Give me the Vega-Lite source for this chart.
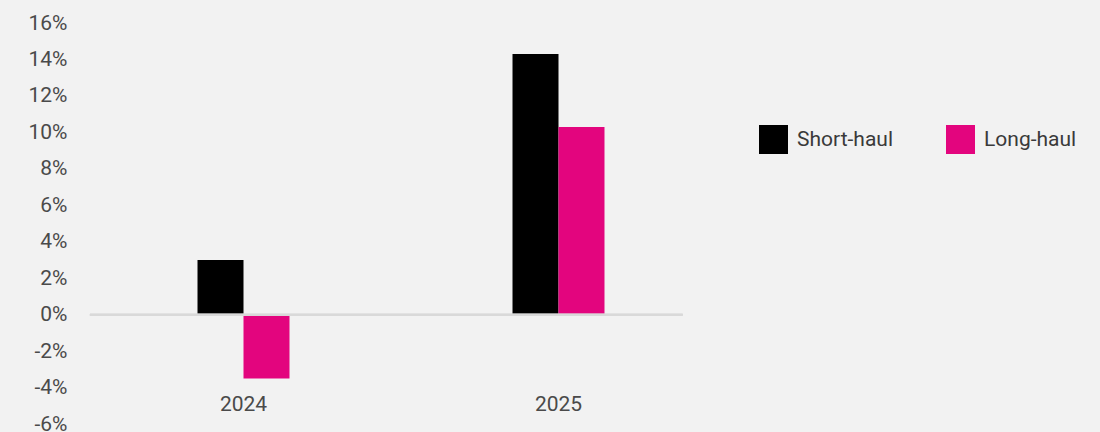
{
  "$schema": "https://vega.github.io/schema/vega-lite/v6.json",
  "autosize": "none",
  "width": 630,
  "height": 401,
  "padding": {"left": 86, "top": 23, "right": 384, "bottom": 8},
  "background": "#f2f2f2",
  "config": {
    "view": {"stroke": null},
    "font": "Roboto",
    "axis": {"labelFont": "Roboto", "labelFontSize": 21, "labelColor": "#4a4a4a", "grid": false, "ticks": false, "domain": false, "title": null, "labelOverlap": false, "labelBound": false},
    "legend": {"labelFont": "Roboto", "labelFontSize": 21, "labelColor": "#3a3a3a"}
  },
  "data": {
    "values": [
      {"year": "2024", "type": "Short-haul", "value": 3.0},
      {"year": "2024", "type": "Long-haul", "value": -3.5},
      {"year": "2025", "type": "Short-haul", "value": 14.3},
      {"year": "2025", "type": "Long-haul", "value": 10.3}
    ]
  },
  "layer": [
    {
      "mark": {"type": "bar"},
      "encoding": {
        "x": {
          "field": "year", "type": "nominal",
          "scale": {"paddingInner": 0.708, "paddingOuter": 0.354},
          "axis": {"labelAngle": 0, "offset": -31, "labelPadding": 0, "labelBaseline": "top", "bandPosition": 0.5, "labelOverlap": false}
        },
        "xOffset": {"field": "type", "type": "nominal", "sort": ["Short-haul", "Long-haul"], "scale": {"paddingInner": 0, "paddingOuter": 0}},
        "y": {
          "field": "value", "type": "quantitative",
          "scale": {"domain": [-6, 16], "nice": false, "zero": false},
          "axis": {"values": [-6, -4, -2, 0, 2, 4, 6, 8, 10, 12, 14, 16], "labelExpr": "datum.value + '%'", "labelPadding": 19, "labelOverlap": false, "labelBound": false, "labelFlush": false}
        },
        "color": {
          "field": "type", "type": "nominal",
          "sort": ["Short-haul", "Long-haul"],
          "scale": {"domain": ["Short-haul", "Long-haul"], "range": ["#000000", "#e3057e"]},
          "legend": {
            "title": null, "orient": "none", "direction": "horizontal",
            "legendX": 673, "legendY": 102,
            "symbolType": "square", "symbolSize": 841, "symbolStrokeWidth": 0,
            "symbolOpacity": 1, "labelOffset": 9, "columnPadding": 53
          }
        }
      }
    },
    {
      "mark": {"type": "rule", "color": "#d9d9d9", "strokeWidth": 2},
      "encoding": {
        "y": {"datum": 0, "type": "quantitative",
          "axis": {"values": [-6, -4, -2, 0, 2, 4, 6, 8, 10, 12, 14, 16], "labelExpr": "datum.value + '%'", "labelPadding": 19, "labelOverlap": false, "labelBound": false, "labelFlush": false}},
        "x": {"datum": "2024", "type": "nominal", "bandPosition": -1.17,
          "axis": {"labelAngle": 0, "offset": -31, "labelPadding": 0, "labelBaseline": "top", "bandPosition": 0.5, "labelOverlap": false}},
        "x2": {"datum": "2025", "bandPosition": 1.85}
      }
    }
  ]
}
